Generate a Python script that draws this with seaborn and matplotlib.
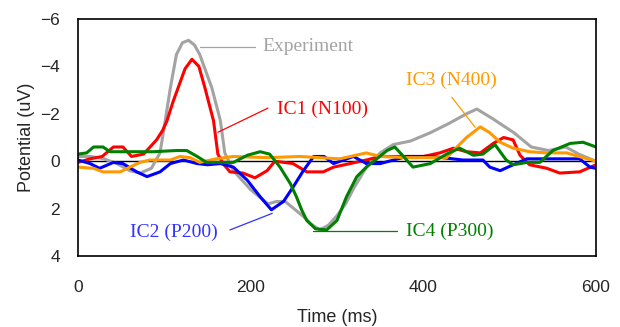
import pandas as pd
import matplotlib
matplotlib.use("Agg")
import matplotlib.pyplot as plt
import seaborn as sns

# time (ms) / potential (uV), one pair of lists per curve
exp_t = [0, 15, 30, 45, 60, 72, 85, 95, 101, 107, 114, 121, 128, 135, 141, 148, 155,
         165, 170, 180, 190, 200, 210, 220, 230, 240, 250, 260, 270, 280, 290, 300,
         310, 320, 335, 350, 365, 385, 408, 430, 450, 462, 480, 505, 525, 545, 565,
         580, 600]
exp_v = [-0.2, -0.2, -0.1, 0.1, 0.4, 0.5, 0.3, -0.35, -1.7, -3.1, -4.5, -5.0, -5.1,
         -4.9, -4.5, -3.8, -3.1, -1.7, -0.35, 0.4, 0.8, 1.2, 1.5, 1.8, 1.7, 1.7, 2.0,
         2.3, 2.65, 2.9, 2.7, 2.3, 1.8, 1.1, 0.2, -0.35, -0.7, -0.85, -1.2, -1.6, -2.0,
         -2.2, -1.8, -1.2, -0.6, -0.45, -0.6, -0.3, 0.0]

ic1_t = [0, 14, 28, 41, 52, 62, 76, 91, 98, 103, 110, 116, 124, 132, 140, 147, 157,
         162, 168, 176, 191, 205, 219, 228, 249, 265, 284, 296, 315, 334, 350, 373,
         400, 419, 435, 450, 466, 481, 493, 504, 512, 523, 543, 558, 581, 600]
ic1_v = [0.05, -0.1, -0.2, -0.6, -0.6, -0.2, -0.3, -0.9, -1.3, -1.7, -2.5, -3.1, -3.9,
         -4.3, -4.0, -3.1, -1.7, -0.3, 0.1, 0.45, 0.5, 0.7, 0.4, 0.0, 0.1, 0.45, 0.45,
         0.25, 0.1, -0.05, -0.2, -0.2, -0.2, -0.35, -0.55, -0.4, -0.35, -0.75, -1.0,
         -0.9, -0.25, 0.15, 0.3, 0.5, 0.45, 0.15]

ic2_t = [0, 14, 25, 41, 52, 68, 80, 95, 107, 122, 138, 150, 165, 180, 196, 211, 224,
         238, 249, 261, 273, 285, 296, 319, 334, 350, 381, 410, 446, 469, 477, 489,
         504, 520, 581, 593, 600]
ic2_v = [-0.05, 0.1, 0.3, 0.05, 0.1, 0.45, 0.65, 0.45, 0.1, -0.05, 0.1, 0.15, 0.1,
         0.25, 0.8, 1.5, 2.05, 1.7, 1.1, 0.4, -0.2, -0.2, 0.1, -0.2, 0.1, 0.1, -0.2,
         -0.2, -0.05, -0.05, 0.25, 0.4, 0.15, -0.1, -0.1, 0.25, 0.3]

ic3_t = [0, 18, 29, 49, 60, 72, 83, 107, 118, 130, 141, 160, 180, 220, 257, 303, 334,
         350, 380, 427, 439, 450, 466, 477, 489, 504, 523, 543, 566, 590, 600]
ic3_v = [0.25, 0.3, 0.45, 0.45, 0.25, 0.05, -0.05, -0.05, -0.2, -0.15, 0.05, -0.1,
         -0.2, -0.15, -0.2, -0.1, -0.35, -0.2, -0.15, -0.15, -0.6, -1.0, -1.45, -1.2,
         -0.8, -0.55, -0.4, -0.35, -0.35, -0.1, 0.0]

ic4_t = [0, 10, 18, 29, 37, 60, 87, 114, 126, 138, 149, 164, 180, 196, 211, 222, 234,
         246, 253, 259, 265, 275, 288, 300, 311, 323, 334, 346, 358, 367, 377, 388,
         408, 427, 442, 458, 469, 483, 496, 504, 520, 535, 550, 570, 585, 600]
ic4_v = [-0.3, -0.35, -0.6, -0.6, -0.4, -0.4, -0.4, -0.45, -0.45, -0.2, 0.05, 0.05,
         0.05, -0.25, -0.4, -0.3, 0.25, 0.95, 1.5, 2.05, 2.5, 2.85, 2.9, 2.5, 1.5, 0.65,
         0.25, -0.1, -0.45, -0.6, -0.2, 0.25, 0.1, -0.3, -0.55, -0.25, -0.3, -0.7,
         -0.05, 0.15, 0.05, 0.05, -0.45, -0.75, -0.8, -0.6]

series = ["Experiment", "IC1", "IC2", "IC3", "IC4"]
colors = ["#a3a3a3", "#ff0000", "#0000ff", "#ff9900", "#008000"]

frames = []
for name, t, v in zip(series, [exp_t, ic1_t, ic2_t, ic3_t, ic4_t],
                      [exp_v, ic1_v, ic2_v, ic3_v, ic4_v]):
    frames.append(pd.DataFrame({"time": t, "potential": v, "series": name}))
df = pd.concat(frames, ignore_index=True)

sns.set_style("white")
plt.rcParams["font.family"] = ["Liberation Sans", "DejaVu Sans"]

fig = plt.figure(figsize=(6.2, 3.27), dpi=100)
ax = fig.add_axes([0.1258, 0.2171, 0.8355, 0.7248])

ax.axhline(0, color="black", lw=1.0, zorder=1)
sns.lineplot(data=df, x="time", y="potential", hue="series", hue_order=series,
             palette=colors, estimator=None, sort=False, lw=2.2, legend=False,
             solid_joinstyle="round", solid_capstyle="round", ax=ax, zorder=2)

ax.set_xlim(0, 600)
ax.set_ylim(4, -6)
ax.set_xticks([0, 200, 400, 600])
ax.set_yticks([-6, -4, -2, 0, 2, 4])
ax.set_yticklabels(["\u22126", "\u22124", "\u22122", "0", "2", "4"])
ax.tick_params(axis="x", length=0, pad=17, labelsize=12.5)
ax.tick_params(axis="y", length=0, pad=13, labelsize=12.5)
ax.set_xlabel("")
ax.set_ylabel("")
for s in ax.spines.values():
    s.set_color("black")
    s.set_linewidth(1.2)

fig.text(0.544, 0.028, "Time (ms)", ha="center", va="center", fontsize=13)
fig.text(0.042, 0.58, "Potential (uV)", ha="center", va="center",
         rotation=90, fontsize=13)

# labels with leader lines
serif = ["Liberation Serif", "DejaVu Serif"]
notes = [
    ("Experiment", colors[0], (214, -4.85), (141, -4.8), (205, -4.8)),
    ("IC1 (N100)", colors[1], (230, -2.2), (220, -2.24), (162, -1.22)),
    ("IC3 (N400)", colors[3], (380, -3.42), (433, -2.7), (460, -1.43)),
    ("IC2 (P200)", "#3333ff", (60, 3.0), (176, 2.9), (225, 2.2)),
    ("IC4 (P300)", colors[4], (380, 2.95), (272, 2.95), (370, 2.95)),
]
for text, col, pos, p0, p1 in notes:
    ax.plot([p0[0], p1[0]], [p0[1], p1[1]], color=col, lw=0.9, zorder=3)
    ax.text(pos[0], pos[1], text, color=col, fontsize=14, family=serif,
            ha="left", va="center", zorder=4)

fig.savefig("out.png", dpi=100)
